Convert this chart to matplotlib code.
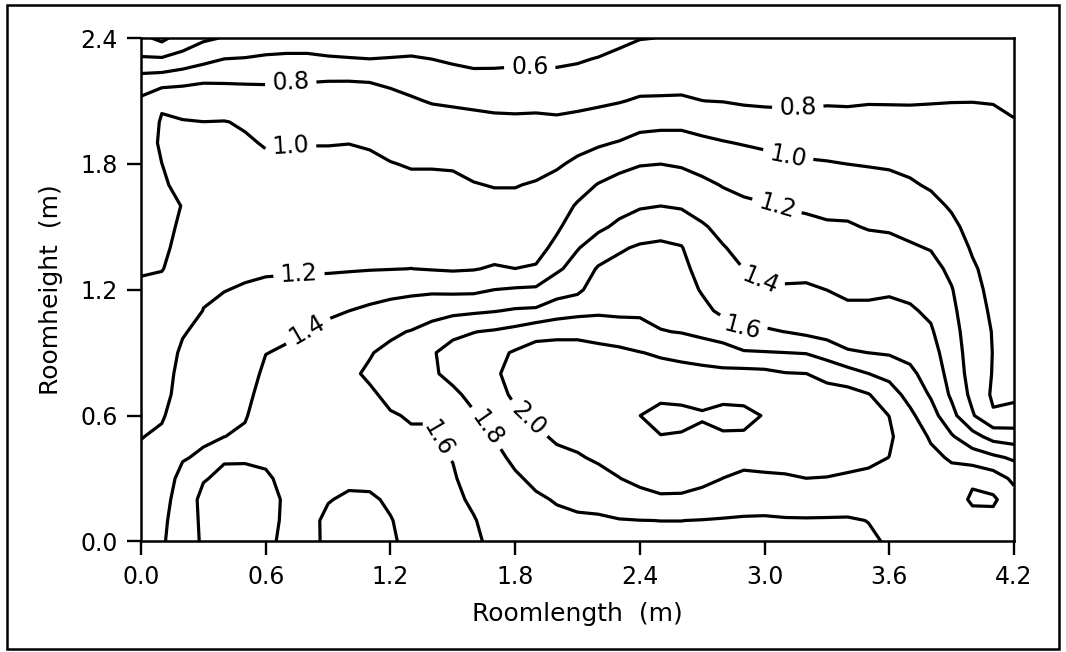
import numpy as np
import matplotlib
matplotlib.use("Agg")
import matplotlib.pyplot as plt
from matplotlib.patches import Rectangle

plt.rcParams["font.family"] = ["DejaVu Sans"]

# measuring stations (m)
x_stations = np.linspace(0.0, 4.2, 43)
y_stations = np.linspace(0.0, 2.4, 25)

# values, one list per x station (0.0, 0.1, ... 4.2),
# each going from y = 0.0 up to y = 2.4 in 0.1 m steps
grid_cols = [
    [1.33, 1.31, 1.285, 1.26, 1.23, 1.195, 1.17, 1.144, 1.119, 1.094, 1.068, 1.043, 1.018, 0.99, 0.97, 0.947, 0.924, 0.90, 0.88, 0.865, 0.855, 0.835, 0.68, 0.42, 0.25],
    [1.385, 1.375, 1.355, 1.33, 1.29, 1.225, 1.185, 1.17, 1.155, 1.135, 1.11, 1.075, 1.035, 0.995, 0.975, 0.965, 0.96, 0.97, 0.999, 1.036, 1.02, 0.97, 0.70, 0.42, 0.15],
    [1.47, 1.465, 1.46, 1.44, 1.39, 1.33, 1.28, 1.237, 1.233, 1.22, 1.19, 1.12, 1.07, 1.05, 1.0375, 1.019, 1.004, 1.06, 1.07, 1.07, 1.01, 0.92, 0.75, 0.46, 0.30],
    [1.6325, 1.645, 1.66, 1.585, 1.42, 1.38, 1.352, 1.322, 1.293, 1.263, 1.233, 1.203, 1.18, 1.16, 1.14, 1.12, 1.10, 1.08, 1.06, 1.035, 1.001, 0.91, 0.78, 0.54, 0.37],
    [1.67, 1.67, 1.66, 1.645, 1.58, 1.398, 1.371, 1.342, 1.313, 1.284, 1.255, 1.226, 1.197, 1.173, 1.149, 1.125, 1.10, 1.077, 1.053, 1.029, 1.005, 0.90, 0.78, 0.601, 0.41],
    [1.68, 1.68, 1.67, 1.65, 1.58, 1.43, 1.385, 1.355, 1.33, 1.30, 1.27, 1.24, 1.21, 1.18, 1.155, 1.127, 1.10, 1.072, 1.044, 1.017, 0.985, 0.88, 0.78, 0.61, 0.45],
    [1.66, 1.66, 1.65, 1.62, 1.575, 1.54, 1.50, 1.465, 1.43, 1.397, 1.34, 1.286, 1.232, 1.18, 1.155, 1.12, 1.09, 1.06, 1.025, 0.99, 0.94, 0.87, 0.78, 0.63, 0.48],
    [1.54, 1.568, 1.579, 1.563, 1.54, 1.515, 1.49, 1.465, 1.44, 1.415, 1.38, 1.31, 1.245, 1.18, 1.155, 1.125, 1.09, 1.06, 1.03, 0.995, 0.93, 0.87, 0.79, 0.64, 0.49],
    [1.52, 1.54, 1.55, 1.545, 1.53, 1.51, 1.49, 1.47, 1.45, 1.43, 1.405, 1.34, 1.26, 1.18, 1.155, 1.125, 1.09, 1.06, 1.03, 0.995, 0.93, 0.87, 0.79, 0.64, 0.49],
    [1.65, 1.64, 1.59, 1.56, 1.54, 1.52, 1.50, 1.48, 1.465, 1.45, 1.43, 1.38, 1.27, 1.18, 1.155, 1.125, 1.09, 1.06, 1.03, 0.995, 0.935, 0.875, 0.795, 0.62, 0.48],
    [1.66, 1.655, 1.63, 1.56, 1.54, 1.545, 1.555, 1.565, 1.575, 1.565, 1.49, 1.399, 1.29, 1.185, 1.16, 1.13, 1.095, 1.065, 1.035, 0.998, 0.94, 0.88, 0.795, 0.61, 0.47],
    [1.65, 1.645, 1.615, 1.575, 1.56, 1.555, 1.56, 1.58, 1.62, 1.59, 1.51, 1.43, 1.33, 1.19, 1.16, 1.13, 1.10, 1.07, 1.03, 0.985, 0.935, 0.875, 0.79, 0.601, 0.46],
    [1.62, 1.605, 1.585, 1.575, 1.575, 1.58, 1.59, 1.63, 1.66, 1.64, 1.57, 1.46, 1.35, 1.195, 1.15, 1.105, 1.065, 1.035, 1.005, 0.96, 0.90, 0.83, 0.78, 0.61, 0.47],
    [1.56, 1.565, 1.57, 1.575, 1.58, 1.585, 1.61, 1.68, 1.72, 1.70, 1.61, 1.47, 1.37, 1.201, 1.15, 1.11, 1.07, 1.03, 0.99, 0.93, 0.87, 0.815, 0.75, 0.62, 0.48],
    [1.55, 1.555, 1.56, 1.565, 1.575, 1.585, 1.61, 1.70, 1.78, 1.785, 1.68, 1.52, 1.37, 1.19, 1.15, 1.11, 1.07, 1.03, 0.99, 0.93, 0.86, 0.79, 0.72, 0.599, 0.46],
    [1.54, 1.55, 1.565, 1.585, 1.605, 1.65, 1.70, 1.77, 1.84, 1.86, 1.76, 1.55, 1.36, 1.18, 1.14, 1.10, 1.065, 1.03, 0.985, 0.925, 0.85, 0.78, 0.69, 0.57, 0.44],
    [1.57, 1.59, 1.625, 1.66, 1.70, 1.74, 1.785, 1.84, 1.90, 1.89, 1.795, 1.57, 1.36, 1.19, 1.13, 1.085, 1.045, 1.005, 0.97, 0.91, 0.84, 0.77, 0.66, 0.55, 0.44],
    [1.64, 1.66, 1.69, 1.72, 1.76, 1.805, 1.86, 1.92, 1.97, 1.95, 1.82, 1.59, 1.401, 1.22, 1.12, 1.07, 1.03, 0.995, 0.95, 0.895, 0.83, 0.76, 0.65, 0.56, 0.45],
    [1.70, 1.72, 1.75, 1.78, 1.83, 1.89, 1.96, 2.04, 2.07, 2.02, 1.86, 1.62, 1.42, 1.201, 1.12, 1.07, 1.03, 0.995, 0.95, 0.895, 0.825, 0.76, 0.65, 0.57, 0.46],
    [1.72, 1.745, 1.78, 1.83, 1.89, 1.96, 2.04, 2.09, 2.10, 2.08, 1.93, 1.63, 1.43, 1.22, 1.13, 1.085, 1.05, 1.01, 0.96, 0.90, 0.83, 0.76, 0.655, 0.565, 0.46],
    [1.74, 1.77, 1.81, 1.87, 1.95, 2.03, 2.09, 2.12, 2.12, 2.08, 1.95, 1.70, 1.52, 1.37, 1.25, 1.17, 1.11, 1.05, 0.98, 0.91, 0.82, 0.76, 0.66, 0.56, 0.455],
    [1.76, 1.78, 1.83, 1.90, 1.98, 2.06, 2.12, 2.15, 2.14, 2.08, 1.95, 1.74, 1.56, 1.47, 1.39, 1.30, 1.22, 1.12, 1.03, 0.95, 0.84, 0.76, 0.67, 0.58, 0.47],
    [1.76, 1.785, 1.835, 1.93, 2.03, 2.10, 2.15, 2.17, 2.15, 2.07, 1.91, 1.77, 1.70, 1.62, 1.48, 1.37, 1.28, 1.21, 1.08, 0.98, 0.87, 0.77, 0.69, 0.61, 0.50],
    [1.77, 1.795, 1.86, 1.995, 2.07, 2.13, 2.17, 2.18, 2.15, 2.05, 1.87, 1.77, 1.71, 1.65, 1.58, 1.43, 1.35, 1.26, 1.15, 1.01, 0.90, 0.79, 0.71, 0.64, 0.56],
    [1.765, 1.798, 1.93, 2.05, 2.11, 2.16, 2.198, 2.16, 2.10, 2.005, 1.88, 1.76, 1.71, 1.67, 1.62, 1.51, 1.38, 1.29, 1.19, 1.05, 0.95, 0.82, 0.73, 0.66, 0.595],
    [1.76, 1.801, 1.97, 2.08, 2.14, 2.19, 2.30, 2.13, 2.06, 1.98, 1.81, 1.73, 1.70, 1.67, 1.63, 1.54, 1.399, 1.30, 1.199, 1.06, 0.96, 0.82, 0.74, 0.67, 0.602],
    [1.76, 1.801, 1.97, 2.07, 2.13, 2.18, 2.27, 2.13, 2.05, 1.96, 1.79, 1.73, 1.70, 1.66, 1.61, 1.51, 1.38, 1.29, 1.18, 1.06, 0.96, 0.82, 0.75, 0.69, 0.64],
    [1.76, 1.795, 1.93, 2.05, 2.10, 2.14, 2.225, 2.12, 2.04, 1.94, 1.74, 1.66, 1.58, 1.52, 1.47, 1.42, 1.33, 1.24, 1.14, 1.03, 0.94, 0.801, 0.75, 0.70, 0.66],
    [1.765, 1.79, 1.88, 1.998, 2.08, 2.17, 2.28, 2.13, 2.05, 1.87, 1.72, 1.55, 1.48, 1.45, 1.41, 1.35, 1.27, 1.19, 1.10, 1.01, 0.91, 0.795, 0.76, 0.72, 0.68],
    [1.765, 1.785, 1.86, 1.96, 2.06, 2.17, 2.27, 2.12, 2.06, 1.82, 1.62, 1.47, 1.43, 1.399, 1.35, 1.29, 1.23, 1.16, 1.08, 0.99, 0.88, 0.78, 0.76, 0.72, 0.69],
    [1.765, 1.785, 1.85, 1.97, 2.07, 2.13, 2.185, 2.13, 2.05, 1.81, 1.62, 1.52, 1.42, 1.35, 1.31, 1.26, 1.21, 1.15, 1.06, 0.97, 0.85, 0.78, 0.76, 0.73, 0.70],
    [1.77, 1.79, 1.86, 1.98, 2.07, 2.11, 2.13, 2.10, 2.01, 1.801, 1.598, 1.50, 1.42, 1.35, 1.30, 1.25, 1.19, 1.12, 1.03, 0.95, 0.84, 0.78, 0.76, 0.74, 0.71],
    [1.775, 1.79, 1.87, 1.999, 2.07, 2.10, 2.11, 2.08, 2.001, 1.79, 1.56, 1.48, 1.42, 1.36, 1.31, 1.25, 1.17, 1.10, 1.02, 0.94, 0.84, 0.78, 0.76, 0.74, 0.72],
    [1.78, 1.79, 1.86, 1.995, 2.06, 2.09, 2.09, 2.05, 1.96, 1.71, 1.53, 1.46, 1.399, 1.33, 1.28, 1.22, 1.16, 1.09, 1.01, 0.94, 0.85, 0.785, 0.765, 0.745, 0.725],
    [1.78, 1.79, 1.85, 1.98, 2.05, 2.08, 2.07, 2.07, 1.88, 1.62, 1.50, 1.43, 1.37, 1.32, 1.27, 1.215, 1.16, 1.08, 0.999, 0.93, 0.84, 0.785, 0.765, 0.745, 0.725],
    [1.785, 1.802, 1.86, 1.96, 2.04, 2.07, 2.06, 2.01, 1.801, 1.599, 1.49, 1.43, 1.37, 1.31, 1.255, 1.19, 1.13, 1.06, 0.99, 0.92, 0.85, 0.79, 0.765, 0.745, 0.725],
    [1.81, 1.83, 1.87, 1.94, 1.998, 2.025, 1.998, 1.88, 1.75, 1.58, 1.50, 1.44, 1.38, 1.31, 1.25, 1.18, 1.12, 1.05, 0.98, 0.91, 0.845, 0.79, 0.765, 0.745, 0.725],
    [1.83, 1.85, 1.87, 1.89, 1.90, 1.90, 1.84, 1.74, 1.64, 1.55, 1.47, 1.42, 1.36, 1.29, 1.22, 1.15, 1.09, 1.02, 0.96, 0.90, 0.84, 0.79, 0.765, 0.745, 0.725],
    [1.86, 1.875, 1.885, 1.88, 1.84, 1.78, 1.68, 1.58, 1.52, 1.47, 1.42, 1.37, 1.32, 1.26, 1.19, 1.12, 1.05, 0.98, 0.93, 0.88, 0.83, 0.795, 0.77, 0.75, 0.73],
    [1.88, 1.895, 1.90, 1.86, 1.78, 1.62, 1.46, 1.37, 1.33, 1.30, 1.27, 1.24, 1.21, 1.16, 1.10, 1.04, 0.98, 0.93, 0.90, 0.87, 0.835, 0.797, 0.775, 0.755, 0.735],
    [1.88, 1.93, 2.03, 1.97, 1.70, 1.47, 1.22, 1.15, 1.12, 1.11, 1.10, 1.08, 1.055, 1.025, 0.98, 0.94, 0.91, 0.885, 0.865, 0.85, 0.83, 0.798, 0.775, 0.755, 0.735],
    [1.88, 1.94, 2.03, 1.90, 1.64, 1.33, 1.02, 0.97, 0.99, 0.995, 0.99, 0.97, 0.95, 0.93, 0.91, 0.89, 0.875, 0.86, 0.85, 0.84, 0.825, 0.795, 0.77, 0.75, 0.735],
    [1.86, 1.87, 1.88, 1.76, 1.57, 1.30, 1.05, 0.97, 0.94, 0.92, 0.905, 0.895, 0.885, 0.875, 0.865, 0.855, 0.845, 0.835, 0.825, 0.815, 0.805, 0.78, 0.76, 0.745, 0.73],
]

levels = [0.2, 0.4, 0.6, 0.8, 1.0, 1.2, 1.4, 1.6, 1.8, 2.0, 2.2]

# where the printed labels sit on their lines
label_spots = {
    0.6: [(1.87, 2.25)],
    0.8: [(0.72, 2.16), (3.16, 2.05)],
    1.0: [(0.72, 1.88), (3.11, 1.82)],
    1.2: [(0.76, 1.27), (3.06, 1.60)],
    1.4: [(0.80, 1.01), (2.97, 1.23)],
    1.6: [(1.45, 0.50), (2.90, 1.03)],
    1.8: [(1.66, 0.54)],
    2.0: [(1.86, 0.58)],
}

x_ticks = [0.0, 0.6, 1.2, 1.8, 2.4, 3.0, 3.6, 4.2]
y_ticks = [0.0, 0.6, 1.2, 1.8, 2.4]

z = np.array(grid_cols).T

fig = plt.figure(figsize=(10.66, 6.52), dpi=100)
ax = fig.add_axes([0.1323, 0.1695, 0.8189, 0.7722])

# one contour set per level so each label lands on its own line
for lev in levels:
    cs = ax.contour(x_stations, y_stations, z, levels=[lev],
                    colors="black", linewidths=2.3)
    if lev in label_spots:
        ax.clabel(cs, manual=label_spots[lev], inline=True,
                  inline_spacing=7, fmt="%.1f", fontsize=17)

ax.set_xlim(0.0, 4.2)
ax.set_ylim(0.0, 2.4)
ax.set_xticks(x_ticks, labels=[f"{v:.1f}" for v in x_ticks])
ax.set_yticks(y_ticks, labels=[f"{v:.1f}" for v in y_ticks])
ax.tick_params(direction="out", length=10, width=1.7, pad=7, labelsize=17)
for side in ax.spines.values():
    side.set_linewidth(1.8)

ax.set_xlabel("Roomlength  (m)", fontsize=18, labelpad=9)
ax.set_ylabel("Roomheight  (m)", fontsize=18, labelpad=12)

# frame around the whole figure
fig.patches.append(Rectangle((0.0066, 0.004), 0.987, 0.988, transform=fig.transFigure,
                             fill=False, edgecolor="black", linewidth=1.8))

fig.savefig("out.png", dpi=100)
